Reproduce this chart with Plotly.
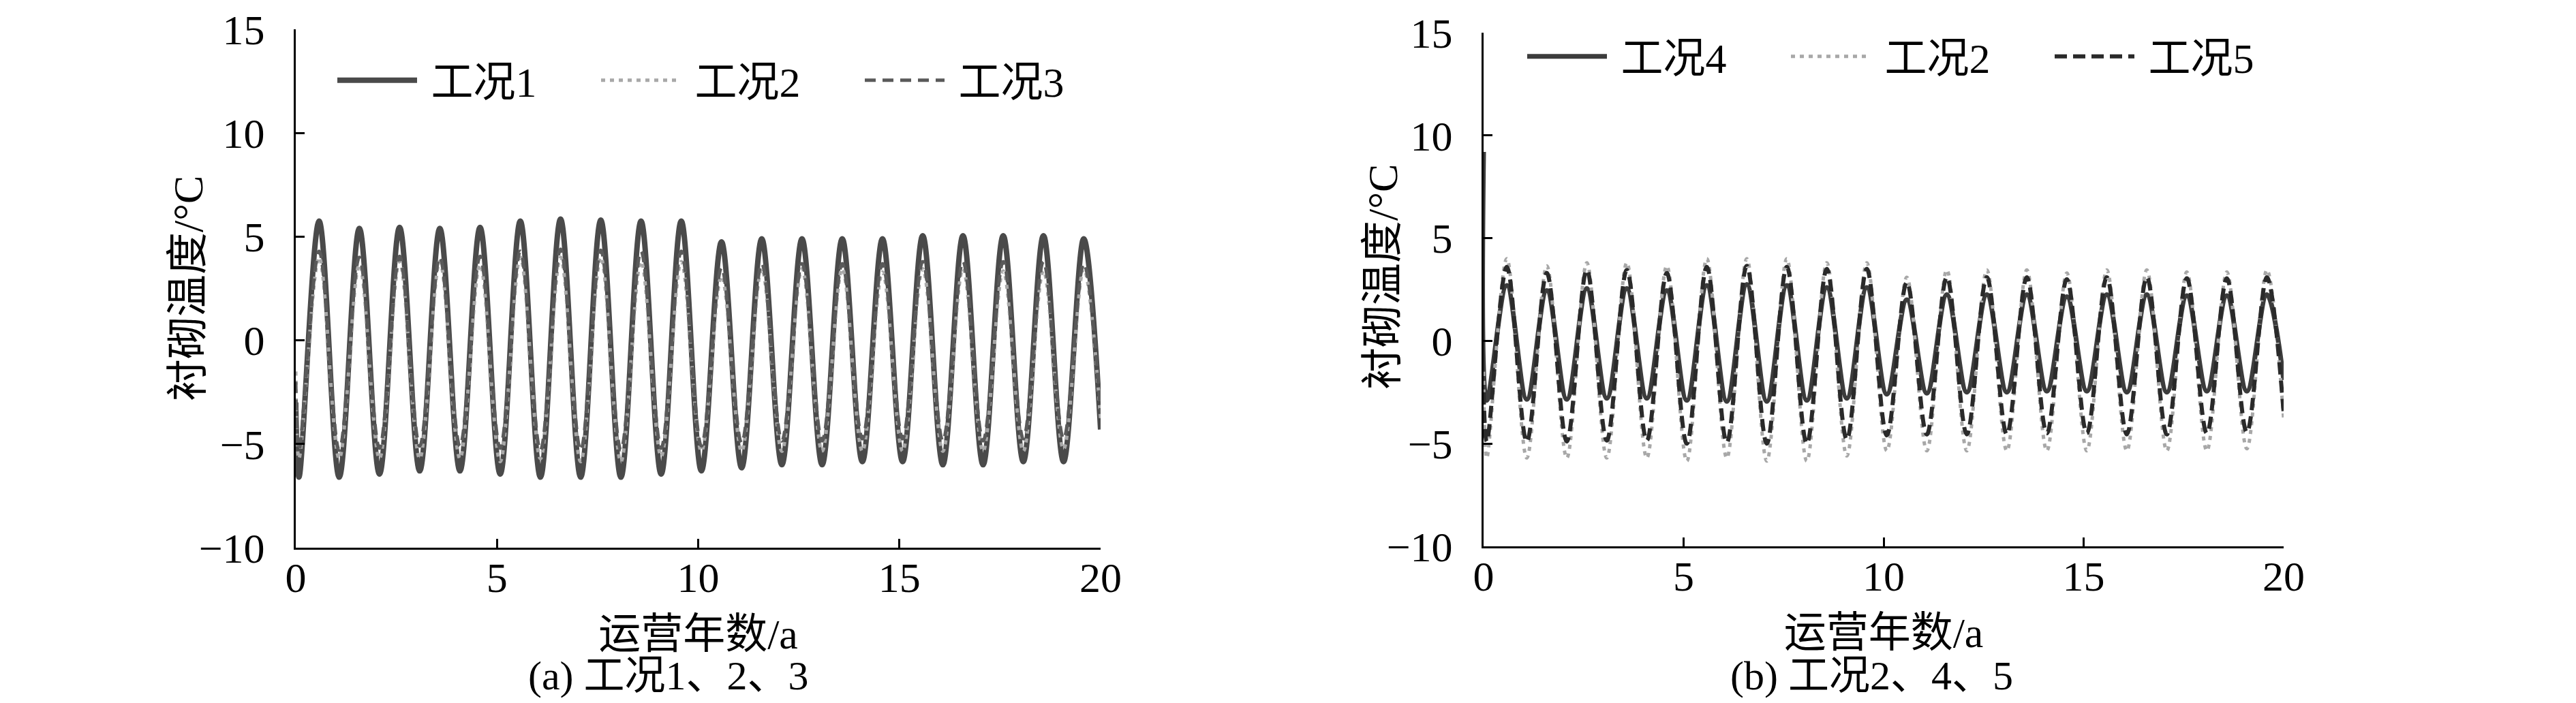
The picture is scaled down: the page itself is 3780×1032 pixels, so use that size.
import plotly.graph_objects as go

# time axis: start, then trough / peak of every year, end (years)
T = [0.0,
     0.08, 0.58, 1.08, 1.58, 2.08, 2.58, 3.08, 3.58, 4.08, 4.58,
     5.08, 5.58, 6.08, 6.58, 7.08, 7.58, 8.08, 8.58, 9.08, 9.58,
     10.08, 10.58, 11.08, 11.58, 12.08, 12.58, 13.08, 13.58, 14.08, 14.58,
     15.08, 15.58, 16.08, 16.58, 17.08, 17.58, 18.08, 18.58, 19.08, 19.58,
     20.0]

# yearly peaks / troughs (deg C)
GK1_PEAK = [5.75, 5.4, 5.45, 5.4, 5.45, 5.75, 5.85, 5.8, 5.75, 5.75,
            4.75, 4.9, 4.9, 4.9, 4.9, 5.05, 5.05, 5.05, 5.05, 4.9]
GK1_TROUGH = [-6.6, -6.6, -6.45, -6.3, -6.3, -6.45, -6.6, -6.6, -6.6, -6.45,
              -6.3, -6.15, -6.0, -6.0, -5.85, -5.85, -6.0, -6.0, -5.85, -5.85]
GK1_START, GK1_END = -3.0, -4.3

GK2_PEAK = [4.0, 3.65, 3.8, 3.8, 3.65, 4.0, 4.0, 4.0, 3.8, 3.8,
            3.1, 3.45, 3.45, 3.45, 3.3, 3.45, 3.45, 3.35, 3.35, 3.45]
GK2_TROUGH = [-5.7, -5.7, -5.7, -5.7, -5.7, -5.85, -5.7, -5.85, -5.85, -5.6,
              -5.35, -5.35, -5.35, -5.35, -5.35, -5.35, -5.35, -5.35, -5.35, -5.25]
GK2_START, GK2_END = -1.5, -3.8

GK3_PEAK = [4.3, 4.0, 4.05, 4.0, 4.05, 4.3, 4.4, 4.35, 4.3, 4.3,
            3.5, 3.7, 3.7, 3.7, 3.7, 3.8, 3.8, 3.8, 3.8, 3.7]
GK3_TROUGH = [-5.3, -5.3, -5.2, -5.1, -5.1, -5.2, -5.3, -5.3, -5.3, -5.2,
              -5.1, -4.95, -4.85, -4.85, -4.75, -4.75, -4.85, -4.85, -4.75, -4.75]
GK3_START, GK3_END = -2.0, -3.5

GK4_PEAK = [2.7, 2.45, 2.55, 2.55, 2.45, 2.7, 2.75, 2.7, 2.6, 2.6,
            2.0, 2.25, 2.25, 2.25, 2.15, 2.25, 2.25, 2.2, 2.2, 2.25]
GK4_TROUGH = [-2.9, -2.85, -2.85, -2.8, -2.8, -2.9, -2.95, -2.95, -2.9, -2.8,
              -2.6, -2.55, -2.5, -2.5, -2.45, -2.45, -2.5, -2.5, -2.45, -2.45]
GK4_START, GK4_END = 9.2, -1.9

GK5_PEAK = [3.6, 3.3, 3.45, 3.45, 3.3, 3.6, 3.65, 3.6, 3.5, 3.5,
            2.85, 3.1, 3.1, 3.1, 3.0, 3.1, 3.1, 3.05, 3.05, 3.1]
GK5_TROUGH = [-4.9, -4.9, -4.9, -4.85, -4.85, -5.0, -4.95, -5.0, -5.0, -4.8,
              -4.6, -4.55, -4.55, -4.55, -4.5, -4.5, -4.55, -4.55, -4.5, -4.45]
GK5_START, GK5_END = -2.5, -3.5

X_TICKS = [0, 5, 10, 15, 20]
Y_TICKS = [-10, -5, 0, 5, 10, 15]

FONT = "Liberation Serif, 'Noto Sans CJK SC', serif"
# page body has an 8px margin, so the figure is 16px smaller than the window
PAD = 8
W, H = 3780 - 2 * PAD, 1032 - 2 * PAD


def xp(x):
    return (x - PAD) / W


def yp(y):
    return 1 - (y - PAD) / H


def series(start, peaks, troughs, end):
    ys = [start]
    for tr, pk in zip(troughs, peaks):
        ys += [tr, pk]
    return ys + [end]


def line(name, ys, color, width, dash, xa, ya, legend):
    return go.Scatter(x=T, y=ys, name=name, mode="lines", xaxis=xa, yaxis=ya,
                      legend=legend, line=dict(color=color, width=width, dash=dash,
                                               shape="spline", smoothing=1.0))


gk1 = series(GK1_START, GK1_PEAK, GK1_TROUGH, GK1_END)
gk2 = series(GK2_START, GK2_PEAK, GK2_TROUGH, GK2_END)
gk3 = series(GK3_START, GK3_PEAK, GK3_TROUGH, GK3_END)
gk4 = series(GK4_START, GK4_PEAK, GK4_TROUGH, GK4_END)
gk5 = series(GK5_START, GK5_PEAK, GK5_TROUGH, GK5_END)

fig = go.Figure()
# (a)
fig.add_trace(line(" 工况1", gk1, "#4a4a4a", 8, "solid", "x", "y", "legend"))
fig.add_trace(line(" 工况2", gk2, "#a8a8a8", 5, "6px,7px", "x", "y", "legend"))
fig.add_trace(line(" 工况3", gk3, "#5a5a5a", 5, "16px,10px", "x", "y", "legend"))
# (b)
fig.add_trace(line(" 工况4", gk4, "#3c3c3c", 7, "solid", "x2", "y2", "legend2"))
fig.add_trace(line(" 工况2", gk2, "#a8a8a8", 5, "6px,7px", "x2", "y2", "legend2"))
fig.add_trace(line(" 工况5", gk5, "#2a2a2a", 6, "18px,9px", "x2", "y2", "legend2"))

tick_font = dict(family=FONT, size=62, color="black")
title_font = dict(family=FONT, size=62, color="black")
caption_font = dict(family=FONT, size=60, color="black")
axis_style = dict(showline=True, linecolor="black", linewidth=3, ticks="inside",
                  ticklen=13, tickwidth=3, tickcolor="black", showgrid=False,
                  zeroline=False, mirror=False, tickfont=tick_font, automargin=False)

legend_style = dict(orientation="h", xanchor="left", yanchor="middle",
                    font=dict(family=FONT, size=62, color="black"),
                    itemwidth=117, entrywidth=255, bgcolor="rgba(0,0,0,0)")


def text(s, x, y, font, angle=0):
    return dict(text=s, x=xp(x), y=yp(y), xref="paper", yref="paper",
                xanchor="center", yanchor="middle", textangle=angle,
                showarrow=False, font=font)


fig.update_layout(
    width=W, height=H,
    margin=dict(l=0, r=0, t=0, b=0),
    paper_bgcolor="white", plot_bgcolor="white",
    xaxis=dict(axis_style, domain=[xp(434), xp(1615)], range=[0, 20], tickvals=X_TICKS,
               anchor="y", ticklabelstandoff=-12,
               title=dict(text="运营年数/a", font=title_font, standoff=28)),
    yaxis=dict(axis_style, domain=[yp(804), yp(43)], range=[-10, 15],
               tickvals=Y_TICKS, anchor="x", ticklabelstandoff=30),
    xaxis2=dict(axis_style, domain=[xp(2177), xp(3351)], range=[0, 20], tickvals=X_TICKS,
                anchor="y2", ticklabelstandoff=-12,
                title=dict(text="运营年数/a", font=title_font, standoff=28)),
    yaxis2=dict(axis_style, domain=[yp(802), yp(48)], range=[-10, 15],
                tickvals=Y_TICKS, anchor="x2", ticklabelstandoff=30),
    legend=dict(legend_style, x=xp(490), y=yp(118)),
    legend2=dict(legend_style, x=xp(2236), y=yp(83)),
    annotations=[
        text("衬砌温度/°C", 276, 424, title_font, -90),
        text("衬砌温度/°C", 2029, 407, title_font, -90),
        text("(a) 工况1、2、3", 981, 992, caption_font),
        text("(b) 工况2、4、5", 2746, 992, caption_font),
    ],
)

fig.write_html("out.html")
